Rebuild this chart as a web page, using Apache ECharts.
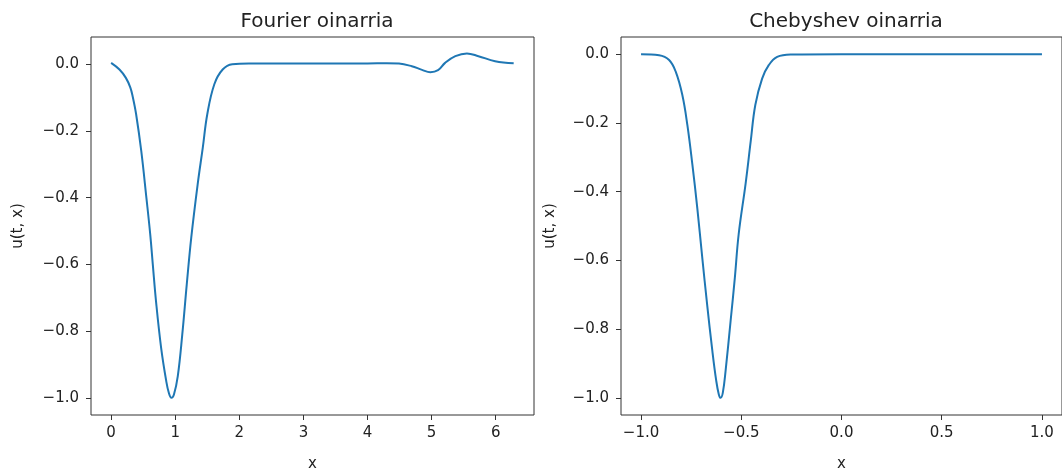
<!DOCTYPE html>
<html>
<head>
<meta charset="utf-8">
<script src="https://cdn.jsdelivr.net/npm/echarts@6.0.0/dist/echarts.min.js"></script>
<style>
  html, body { margin: 0; padding: 0; background: #fff; }
  #chart { width: 1062px; height: 468px; }
</style>
</head>
<body>
<div id="chart"></div>
<script>
// Fourier oinarria
var fourierX = [0, 0.13, 0.23, 0.30, 0.34, 0.39, 0.47, 0.55, 0.61, 0.65, 0.70, 0.78, 0.86, 0.90, 0.94, 0.98, 1.04, 1.11, 1.18, 1.25, 1.35, 1.43, 1.50, 1.61, 1.74, 1.89, 2.15, 2.6, 3.0, 3.5, 4.0, 4.3, 4.49, 4.69, 4.85, 4.98, 5.1, 5.21, 5.37, 5.55, 5.73, 5.99, 6.28];
var fourierY = [0.004, -0.016, -0.041, -0.07, -0.10, -0.15, -0.26, -0.40, -0.51, -0.60, -0.71, -0.85, -0.95, -0.985, -1.0, -0.99, -0.935, -0.81, -0.66, -0.52, -0.36, -0.25, -0.15, -0.06, -0.016, 0.0, 0.002, 0.002, 0.002, 0.002, 0.002, 0.003, 0.002, -0.006, -0.017, -0.024, -0.018, 0.004, 0.024, 0.032, 0.024, 0.009, 0.003];

// Chebyshev oinarria
var chebX = [-1.0, -0.91, -0.86, -0.827, -0.794, -0.769, -0.744, -0.719, -0.695, -0.670, -0.645, -0.625, -0.612, -0.603, -0.592, -0.578, -0.553, -0.532, -0.513, -0.478, -0.453, -0.430, -0.396, -0.363, -0.321, -0.25, 0, 0.5, 1.0];
var chebY = [0, -0.003, -0.017, -0.051, -0.119, -0.206, -0.321, -0.45, -0.59, -0.73, -0.86, -0.95, -0.99, -1.0, -0.985, -0.92, -0.775, -0.650, -0.524, -0.375, -0.254, -0.148, -0.071, -0.032, -0.008, -0.001, 0, 0, 0];

// tick labels
var fourierTicks = [0, 1, 2, 3, 4, 5, 6];
var chebTicks = [-1.0, -0.5, 0.0, 0.5, 1.0];
var yTicks = [-1.0, -0.8, -0.6, -0.4, -0.2, 0.0];

var pairs = function (xs, ys) {
  return xs.map(function (x, i) { return [x, ys[i]]; });
};

var minus = function (s) { return s.replace('-', '\u2212'); };
var fmt1 = function (v) { return minus(Number(v).toFixed(1)); };
var fmt0 = function (v) { return minus(String(Math.round(v))); };

var font = 'DejaVu Sans';
var textColor = '#222';
var frameColor = '#333';
var fs = 15;
var tickLen = 5;

var xAxisBase = function (idx, min, max, ticks, fmt) {
  return {
    type: 'value', gridIndex: idx, min: min, max: max, position: 'bottom',
    name: 'x', nameLocation: 'middle', nameGap: 42,
    nameTextStyle: { fontFamily: font, fontSize: fs, color: textColor },
    splitLine: { show: false },
    axisLine: { show: false, onZero: false },
    axisTick: { show: false },
    axisLabel: { customValues: ticks, formatter: fmt, margin: 11, fontFamily: font, fontSize: fs, color: textColor }
  };
};

var yAxisBase = function (idx, min, max, gap) {
  return {
    type: 'value', gridIndex: idx, min: min, max: max, position: 'left',
    name: 'u(t, x)', nameLocation: 'middle', nameGap: gap, nameRotate: 90,
    nameTextStyle: { fontFamily: font, fontSize: fs, color: textColor },
    splitLine: { show: false },
    axisLine: { show: false, onZero: false },
    axisTick: { show: false },
    axisLabel: { customValues: yTicks, formatter: fmt1, margin: 12, fontFamily: font, fontSize: fs, color: textColor }
  };
};

// tick-only axis, sitting on the zero of a helper axis inside a slightly larger grid
var tickAxis = function (idx, min, max, ticks, helper) {
  return {
    type: 'value', gridIndex: idx, min: min, max: max,
    splitLine: { show: false },
    axisLine: { show: false, onZero: true, onZeroAxisIndex: helper },
    axisLabel: { show: false },
    axisTick: { show: true, inside: false, length: tickLen, customValues: ticks, lineStyle: { color: frameColor, width: 1 } }
  };
};
// helper whose 0 falls tickLen px inside the edge of its grid
var helperAxis = function (idx, span) {
  return { type: 'value', gridIndex: idx, min: -tickLen, max: span - tickLen, show: false };
};

var lineSeries = function (idx, data) {
  return {
    type: 'line', xAxisIndex: idx, yAxisIndex: idx,
    data: data, showSymbol: false, smooth: 0.4,
    lineStyle: { color: '#1f77b4', width: 2 },
    animation: false
  };
};

var myChart = echarts.init(document.getElementById('chart'));
myChart.setOption({
  animation: false,
  backgroundColor: '#fff',
  title: [
    { text: 'Fourier oinarria', left: 312, top: 7, textAlign: 'center',
      textStyle: { fontFamily: font, fontSize: 20, fontWeight: 'normal', color: textColor } },
    { text: 'Chebyshev oinarria', left: 841, top: 7, textAlign: 'center',
      textStyle: { fontFamily: font, fontSize: 20, fontWeight: 'normal', color: textColor } }
  ],
  grid: [
    { left: 91, right: 528, top: 37, bottom: 53, show: true, borderColor: frameColor, borderWidth: 1, outerBoundsMode: 'none' },
    { left: 621, right: 0, top: 37, bottom: 53, show: true, borderColor: frameColor, borderWidth: 1, outerBoundsMode: 'none' },
    // tick grids
    { left: 91, right: 528, top: 37, bottom: 53 - tickLen, outerBoundsMode: 'none' },
    { left: 91 - tickLen, right: 528, top: 37, bottom: 53, outerBoundsMode: 'none' },
    { left: 621, right: 0, top: 37, bottom: 53 - tickLen, outerBoundsMode: 'none' },
    { left: 621 - tickLen, right: 0, top: 37, bottom: 53, outerBoundsMode: 'none' }
  ],
  xAxis: [
    xAxisBase(0, -0.314, 6.597, fourierTicks, fmt0),
    xAxisBase(1, -1.1, 1.1, chebTicks, fmt1),
    tickAxis(2, -0.314, 6.597, fourierTicks, 2),
    helperAxis(3, 1062 - 528 - 86),
    tickAxis(4, -1.1, 1.1, chebTicks, 4),
    helperAxis(5, 1062 - 616)
  ],
  yAxis: [
    yAxisBase(0, -1.0515, 0.0815, 65),
    yAxisBase(1, -1.05, 0.05, 63),
    helperAxis(2, 468 - 48 - 37),
    tickAxis(3, -1.0515, 0.0815, yTicks, 3),
    helperAxis(4, 468 - 48 - 37),
    tickAxis(5, -1.05, 0.05, yTicks, 5)
  ],
  series: [
    lineSeries(0, pairs(fourierX, fourierY)),
    lineSeries(1, pairs(chebX, chebY))
  ]
});
</script>
</body>
</html>
